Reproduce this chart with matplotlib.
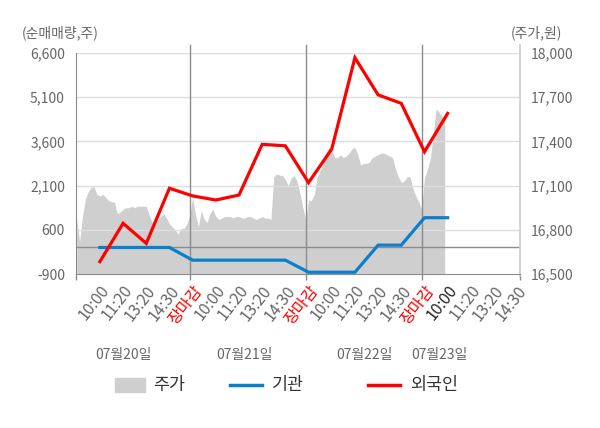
import matplotlib
matplotlib.use('Agg')
import matplotlib.pyplot as plt
import matplotlib.transforms as mtransforms
from matplotlib.lines import Line2D
from matplotlib.patches import Rectangle
import numpy as np

plt.rcParams['font.family'] = ['Noto Sans CJK KR', 'DejaVu Sans']

# ---- data ----
time_labels = ['10:00', '11:20', '13:20', '14:30', '장마감'] * 3 + ['10:00', '11:20', '13:20', '14:30']
dates = ['07월20일', '07월21일', '07월22일', '07월23일']
foreign = [-480, 820, 140, 2010, 1750, 1610, 1780, 3500, 3450, 2200, 3340, 6440, 5180, 4890, 3250, 4550]
inst = [0, 0, 0, 0, -430, -430, -430, -430, -430, -840, -840, -840, 80, 80, 1010, 1010]
# intraday price samples (8 per label step)
price = [16880, 16720, 16890, 17010, 17060, 17090, 17090, 17040, 17030, 17040,
         17020, 17000, 16990, 16990, 16910, 16920, 16940, 16950, 16950, 16960,
         16950, 16960, 16960, 16960, 16960, 16900, 16850, 16860, 16870, 16890,
         16910, 16880, 16840, 16820, 16800, 16770, 16810, 16810, 16840, 16890,
         17020, 16900, 16820, 16930, 16870, 16850, 16910, 16940, 16890, 16870,
         16880, 16890, 16890, 16890, 16880, 16890, 16890, 16880, 16880, 16890,
         16890, 16880, 16870, 16880, 16890, 16880, 16880, 16870, 17160, 17180,
         17170, 17170, 17140, 17100, 17150, 17170, 17130, 17050, 16950, 16870,
         17000, 17000, 17040, 17160, 17200, 17250, 17320, 17360, 17340, 17290,
         17290, 17310, 17290, 17300, 17320, 17350, 17360, 17310, 17240, 17250,
         17250, 17260, 17290, 17300, 17310, 17320, 17320, 17310, 17300, 17290,
         17210, 17160, 17120, 17130, 17160, 17160, 17080, 17030, 16990, 16940,
         17150, 17210, 17280, 17440, 17620, 17600, 17570, 17530]
left_ticks = [-900, 600, 2100, 3600, 5100, 6600]
right_ticks = [16500, 16800, 17100, 17400, 17700, 18000]

# ---- figure ----
fig = plt.figure(figsize=(6, 4.28), dpi=100)
ax1 = fig.add_axes([76 / 600, 1 - 274 / 428, 444 / 600, 221 / 428])
ax2 = ax1.twinx()
ax2.set_zorder(1)
ax1.set_zorder(2)
ax1.patch.set_visible(False)
ax2.patch.set_facecolor('#f5f5f5')

px = np.arange(len(price)) / 8.0
ax2.fill_between(px, price, 16500, color='#cfcfcf', linewidth=0)
ax2.set_ylim(16500, 18000)
ax2.set_yticks(right_ticks)
ax2.set_yticklabels([f'{v:,}' for v in right_ticks])

xl = np.arange(1, len(foreign) + 1)
ax1.set_ylim(-900, 6600)
ax1.set_yticks(left_ticks)
ax1.set_yticklabels([f'{v:,}' for v in left_ticks])
for v in left_ticks[1:]:
    ax1.axhline(v, color='#dddddd', lw=1, zorder=1)
ax1.axhline(0, color='#8c8c8c', lw=1, zorder=1)
ax1.plot(xl, inst, color='#0a7fcc', lw=2.3, zorder=3, solid_joinstyle='miter')
ax1.plot(xl, foreign, color='#ff0000', lw=2.3, zorder=4, solid_joinstyle='miter')

xmin, xmax = -0.03, 19.12
ax1.set_xlim(xmin, xmax)
bounds = [4.88, 9.89, 14.89]
for b in bounds:
    ax1.axvline(b, ymin=0, ymax=1.036, clip_on=False, color='#8c8c8c', lw=1, zorder=2)

ax1.set_xticks(range(1, len(time_labels) + 1))
ax1.set_xticklabels(time_labels, rotation=52, ha='right', va='top',
                    rotation_mode='anchor', fontsize=11.5)
ax1.set_xticks([xmin] + bounds + [xmax], minor=True)
ax1.tick_params(axis='x', which='major', length=0, pad=6)
ax1.tick_params(axis='x', which='minor', length=4, color='#8c8c8c', width=1)
for i, lab in enumerate(ax1.get_xticklabels()):
    if lab.get_text() == '장마감':
        lab.set_color('#ff0000')
    elif i == 15:
        lab.set_color('#222222')
    else:
        lab.set_color('#666666')

ax1.tick_params(axis='y', length=0, pad=8, labelsize=10, labelcolor='#666666')
ax2.tick_params(axis='y', length=0, pad=8, labelsize=10, labelcolor='#666666')

for ax in (ax1, ax2):
    ax.spines['top'].set_visible(False)
    ax.spines['right'].set_visible(False)
ax1.spines['left'].set_color('#8c8c8c')
ax1.spines['bottom'].set_color('#8c8c8c')
ax2.spines['left'].set_visible(False)
ax2.spines['bottom'].set_visible(False)
ax1.add_line(Line2D([1, 1], [-0.01, 1.036], transform=ax1.transAxes, color='#cccccc',
                    lw=1.2, clip_on=False))

# date labels
trans = mtransforms.blended_transform_factory(ax1.transData, ax1.transAxes)
for pos, d in zip([2.0, 7.25, 12.4, 15.65], dates):
    ax1.text(pos, -0.367, d, transform=trans, ha='center', va='center',
             fontsize=10, color='#666666')

# axis titles
fig.text(22 / 600, 1 - 33 / 428, '(순매매량,주)', ha='left', va='center', fontsize=10, color='#666666')
fig.text(562 / 600, 1 - 33 / 428, '(주가,원)', ha='right', va='center', fontsize=10, color='#666666')

# legend
ly = 1 - 385 / 428
fig.patches.append(Rectangle((115 / 600, 1 - 392 / 428), 30 / 600, 14 / 428,
                             transform=fig.transFigure, color='#cfcfcf'))
fig.text(153 / 600, ly, '주가', ha='left', va='center', fontsize=12.5, color='#333333')
fig.lines.append(Line2D([230 / 600, 262 / 600], [ly, ly], transform=fig.transFigure,
                        color='#0a7fcc', lw=2.5))
fig.text(272 / 600, ly, '기관', ha='left', va='center', fontsize=12.5, color='#333333')
fig.lines.append(Line2D([368 / 600, 400 / 600], [ly, ly], transform=fig.transFigure,
                        color='#ff0000', lw=2.5))
fig.text(410 / 600, ly, '외국인', ha='left', va='center', fontsize=12.5, color='#333333')

fig.savefig('out.png', dpi=100)
